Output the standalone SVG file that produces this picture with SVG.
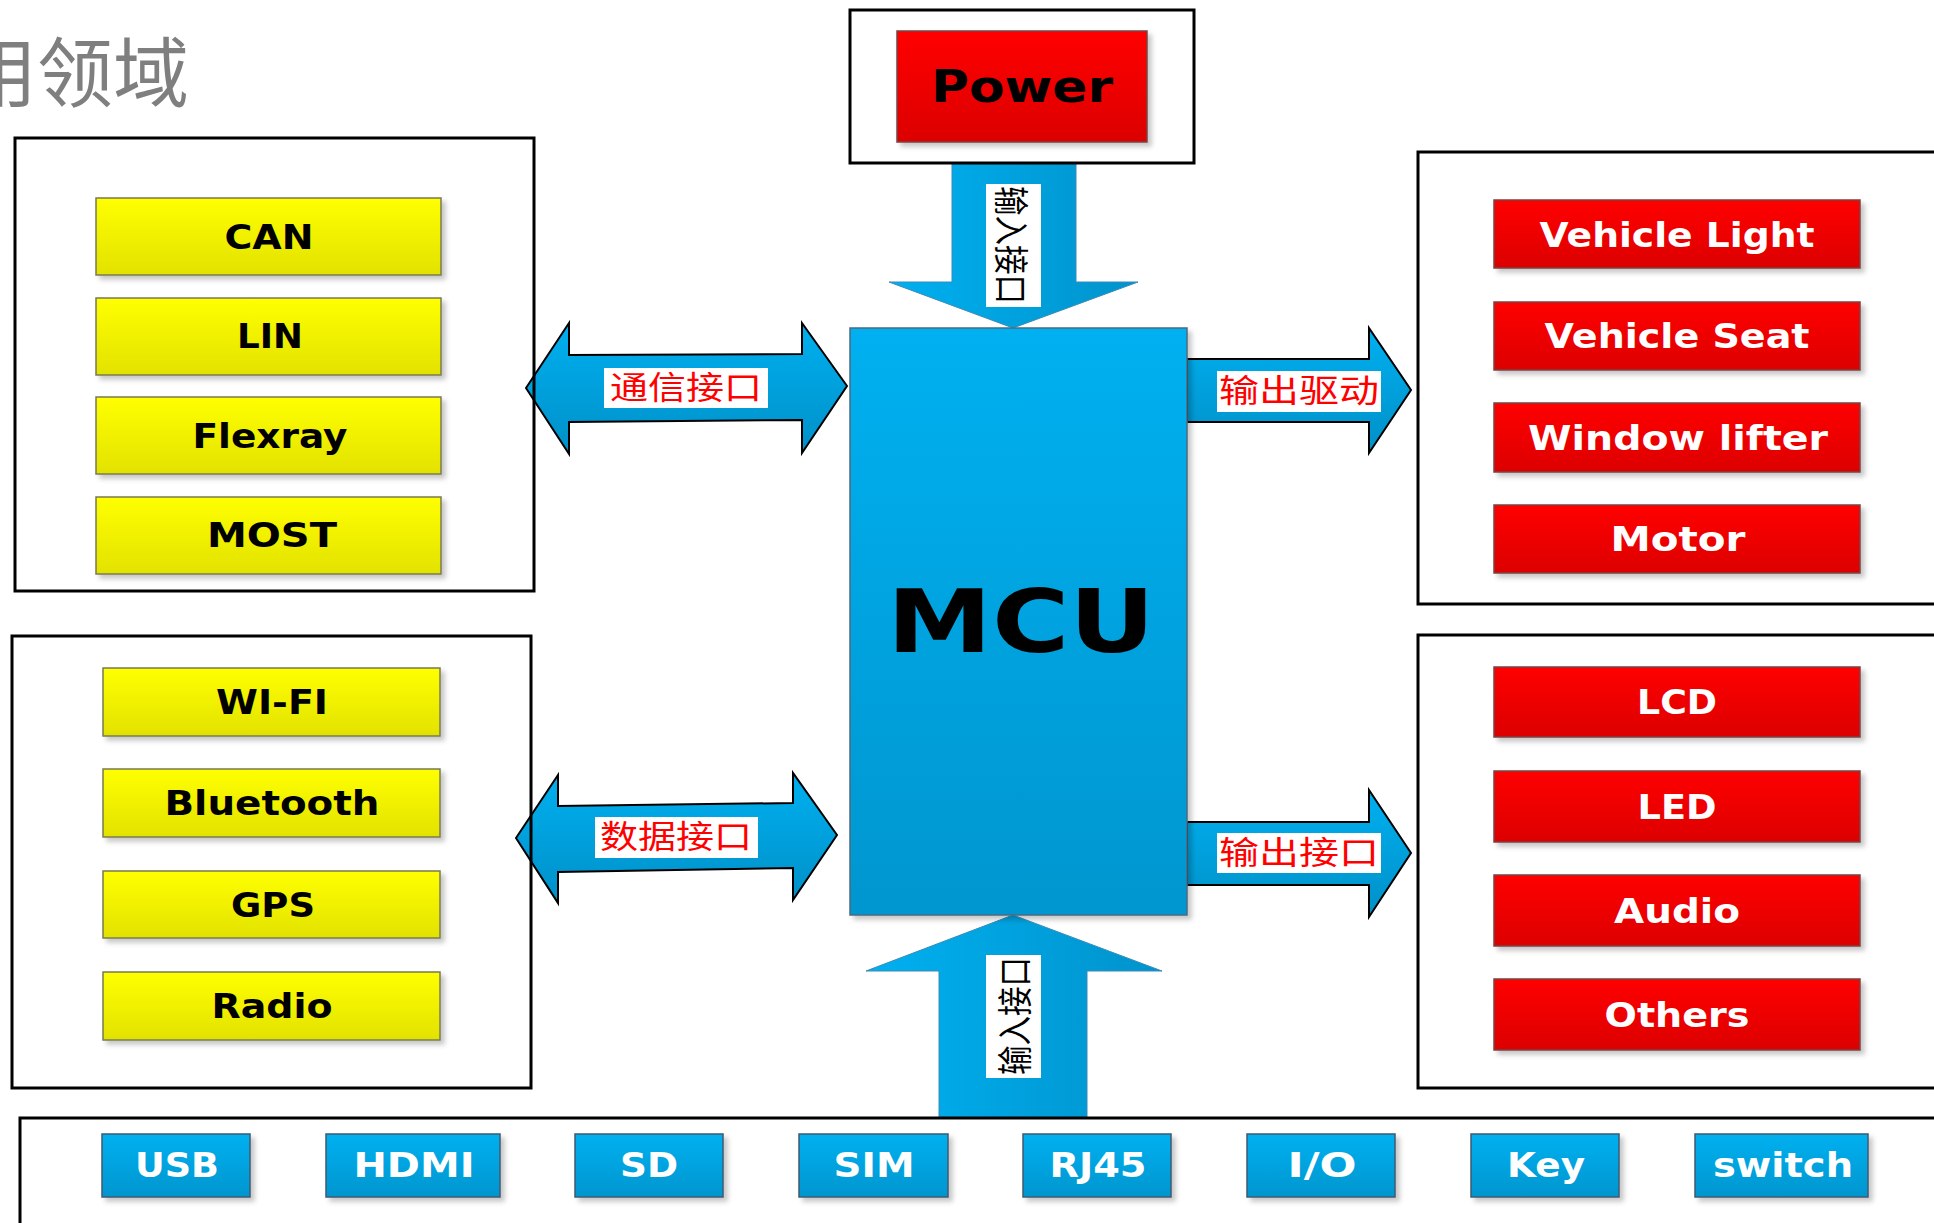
<svg xmlns="http://www.w3.org/2000/svg" width="1934" height="1223" viewBox="0 0 1934 1223">
  <style>
    .frame { fill: none; stroke: #000; stroke-width: 3; }
    .yel { fill: url(#gYel); stroke: #7a7a50; stroke-width: 1.5; filter: url(#sh); }
    .red { fill: url(#gRed); stroke: #7a4040; stroke-width: 1.5; filter: url(#sh); }
    .blu { fill: url(#gBlu); stroke: #3d5a70; stroke-width: 1.5; filter: url(#sh); }
    .lbl { font-family: "DejaVu Sans", "Liberation Sans", sans-serif; font-weight: bold; font-size: 34px; text-anchor: middle; }
    .big { font-size: 88px; }
    .pw { font-size: 44px; }
    .sm { font-size: 33px; }
    .dark { fill: #000; }
    .light { fill: #fff; }
    .harrow { fill: url(#gArrH); stroke: #000; stroke-width: 2; stroke-linejoin: miter; }
    .varrow { fill: url(#gArrV); stroke: #3a8ab8; stroke-width: 1; }
    .tagbox { fill: #fff; }
    .tag { font-family: "Noto Sans CJK SC", "Noto Sans", sans-serif; font-size: 32px; fill: #ff0000; text-anchor: middle; }
    .vtag { font-family: "Noto Sans CJK SC", "Noto Sans", sans-serif; font-size: 29px; fill: #000; text-anchor: middle; dominant-baseline: central; }
    .title { font-family: "Noto Sans CJK SC", sans-serif; font-size: 76px; fill: #7f7f7f; }
  </style>
  <defs>
    <linearGradient id="gYel" x1="0" y1="0" x2="0" y2="1">
      <stop offset="0" stop-color="#ffff00"/>
      <stop offset="1" stop-color="#e2e200"/>
    </linearGradient>
    <linearGradient id="gRed" x1="0" y1="0" x2="0" y2="1">
      <stop offset="0" stop-color="#ff0000"/>
      <stop offset="1" stop-color="#dc0000"/>
    </linearGradient>
    <linearGradient id="gBlu" x1="0" y1="0" x2="0" y2="1">
      <stop offset="0" stop-color="#00b0f0"/>
      <stop offset="1" stop-color="#0096cf"/>
    </linearGradient>
    <linearGradient id="gArrH" x1="0" y1="0" x2="0" y2="1">
      <stop offset="0" stop-color="#00b0f0"/>
      <stop offset="1" stop-color="#0090c8"/>
    </linearGradient>
    <linearGradient id="gArrV" x1="0" y1="0" x2="1" y2="0">
      <stop offset="0" stop-color="#00b0f0"/>
      <stop offset="1" stop-color="#0093cc"/>
    </linearGradient>
    <filter id="sh" x="-10%" y="-10%" width="130%" height="140%">
      <feDropShadow dx="4" dy="4" stdDeviation="2.5" flood-color="#000" flood-opacity="0.22"/>
    </filter>
  </defs>

  <rect x="0" y="0" width="1934" height="1223" fill="#fff"/>

  <text class="title" x="-39" y="101">用领域</text>

  <g id="connectors">
    <g id="arrow-comm">
      <polygon class="harrow" points="526,388 569,323 569,355 802,354 802,323 847,386 802,453 802,420 569,422 569,454"/>
      <rect class="tagbox" x="604" y="368" width="164" height="40"/>
      <text class="tag" x="686" y="399" textLength="152" lengthAdjust="spacingAndGlyphs">通信接口</text>
    </g>
    <g id="arrow-data">
      <polygon class="harrow" points="516,838 558,775 558,806 793,803 793,773 837,835 793,900 793,868 558,872 558,903"/>
      <rect class="tagbox" x="595" y="817" width="163" height="41"/>
      <text class="tag" x="676" y="848" textLength="152" lengthAdjust="spacingAndGlyphs">数据接口</text>
    </g>
    <g id="arrow-drive">
      <polygon class="harrow" points="1187,359 1369,359 1369,328 1411,390 1369,453 1369,422 1187,422"/>
      <rect class="tagbox" x="1217" y="371" width="164" height="41"/>
      <text class="tag" x="1299" y="402" textLength="160" lengthAdjust="spacingAndGlyphs">输出驱动</text>
    </g>
    <g id="arrow-out">
      <polygon class="harrow" points="1187,822 1369,822 1369,790 1411,853 1369,917 1369,885 1187,885"/>
      <rect class="tagbox" x="1217" y="833" width="164" height="40"/>
      <text class="tag" x="1299" y="864" textLength="160" lengthAdjust="spacingAndGlyphs">输出接口</text>
    </g>
    <g id="arrow-power">
      <polygon class="varrow" points="952,164 1076,164 1076,282 1138,282 1013,328 889,282 952,282"/>
      <rect class="tagbox" x="986" y="184" width="55" height="123"/>
      <text class="vtag" transform="translate(1013,245) rotate(90) scale(1,1.2)" x="0" y="0" textLength="118" lengthAdjust="spacingAndGlyphs">输入接口</text>
    </g>
    <g id="arrow-input">
      <polygon class="varrow" points="939,1118 939,971 866,971 1013,915 1162,971 1087,971 1087,1118"/>
      <rect class="tagbox" x="986" y="955" width="55" height="123"/>
      <text class="vtag" transform="translate(1013,1016) rotate(-90) scale(1,1.2)" x="0" y="0" textLength="118" lengthAdjust="spacingAndGlyphs">输入接口</text>
    </g>
  </g>

  <g id="power">
    <rect class="frame" x="850" y="10" width="344" height="153"/>
    <rect class="red" x="897" y="31" width="250" height="111"/>
    <text class="lbl pw dark" x="1022" y="102" textLength="182" lengthAdjust="spacingAndGlyphs">Power</text>
  </g>

  <g id="mcu">
    <rect x="850" y="328" width="337" height="587" fill="url(#gBlu)" stroke="#4a6a80" stroke-width="1.5" filter="url(#sh)"/>
    <text class="lbl big dark" x="1021" y="652" textLength="268" lengthAdjust="spacingAndGlyphs">MCU</text>
  </g>

  <g id="bus-group">
    <rect class="frame" x="15" y="138" width="519" height="453"/>
    <g id="can"><rect class="yel" x="96" y="198" width="345" height="77"/><text class="lbl dark" x="269" y="249" textLength="89" lengthAdjust="spacingAndGlyphs">CAN</text></g>
    <g id="lin"><rect class="yel" x="96" y="298" width="345" height="77"/><text class="lbl dark" x="270" y="348" textLength="66" lengthAdjust="spacingAndGlyphs">LIN</text></g>
    <g id="flexray"><rect class="yel" x="96" y="397" width="345" height="77"/><text class="lbl dark" x="270" y="448" textLength="155" lengthAdjust="spacingAndGlyphs">Flexray</text></g>
    <g id="most"><rect class="yel" x="96" y="497" width="345" height="77"/><text class="lbl dark" x="272" y="547" textLength="130" lengthAdjust="spacingAndGlyphs">MOST</text></g>
  </g>

  <g id="wireless-group">
    <rect class="frame" x="12" y="636" width="519" height="452"/>
    <g id="wifi"><rect class="yel" x="103" y="668" width="337" height="68"/><text class="lbl dark" x="272" y="714" textLength="112" lengthAdjust="spacingAndGlyphs">WI-FI</text></g>
    <g id="bluetooth"><rect class="yel" x="103" y="769" width="337" height="68"/><text class="lbl dark" x="272" y="815" textLength="215" lengthAdjust="spacingAndGlyphs">Bluetooth</text></g>
    <g id="gps"><rect class="yel" x="103" y="871" width="337" height="67"/><text class="lbl dark" x="273" y="917" textLength="84" lengthAdjust="spacingAndGlyphs">GPS</text></g>
    <g id="radio"><rect class="yel" x="103" y="972" width="337" height="68"/><text class="lbl dark" x="272" y="1018" textLength="121" lengthAdjust="spacingAndGlyphs">Radio</text></g>
  </g>

  <g id="actuator-group">
    <rect class="frame" x="1418" y="152" width="540" height="452"/>
    <g id="vehicle-light"><rect class="red" x="1494" y="200" width="366" height="68"/><text class="lbl light" x="1677" y="247" textLength="275" lengthAdjust="spacingAndGlyphs">Vehicle Light</text></g>
    <g id="vehicle-seat"><rect class="red" x="1494" y="302" width="366" height="68"/><text class="lbl light" x="1677" y="348" textLength="265" lengthAdjust="spacingAndGlyphs">Vehicle Seat</text></g>
    <g id="window-lifter"><rect class="red" x="1494" y="403" width="366" height="69"/><text class="lbl light" x="1678" y="450" textLength="300" lengthAdjust="spacingAndGlyphs">Window lifter</text></g>
    <g id="motor"><rect class="red" x="1494" y="505" width="366" height="68"/><text class="lbl light" x="1678" y="551" textLength="135" lengthAdjust="spacingAndGlyphs">Motor</text></g>
  </g>

  <g id="display-group">
    <rect class="frame" x="1418" y="635" width="540" height="453"/>
    <g id="lcd"><rect class="red" x="1494" y="667" width="366" height="70"/><text class="lbl light" x="1677" y="714" textLength="80" lengthAdjust="spacingAndGlyphs">LCD</text></g>
    <g id="led"><rect class="red" x="1494" y="771" width="366" height="71"/><text class="lbl light" x="1677" y="819" textLength="79" lengthAdjust="spacingAndGlyphs">LED</text></g>
    <g id="audio"><rect class="red" x="1494" y="875" width="366" height="71"/><text class="lbl light" x="1677" y="923" textLength="126" lengthAdjust="spacingAndGlyphs">Audio</text></g>
    <g id="others"><rect class="red" x="1494" y="979" width="366" height="71"/><text class="lbl light" x="1677" y="1027" textLength="145" lengthAdjust="spacingAndGlyphs">Others</text></g>
  </g>

  <g id="io-group">
    <rect class="frame" x="20" y="1118" width="1960" height="140"/>
    <g id="usb"><rect class="blu" x="102" y="1134" width="148" height="63"/><text class="lbl sm light" x="177" y="1177" textLength="84" lengthAdjust="spacingAndGlyphs">USB</text></g>
    <g id="hdmi"><rect class="blu" x="326" y="1134" width="174" height="63"/><text class="lbl sm light" x="414" y="1177" textLength="121" lengthAdjust="spacingAndGlyphs">HDMI</text></g>
    <g id="sd"><rect class="blu" x="575" y="1134" width="148" height="63"/><text class="lbl sm light" x="649" y="1177" textLength="58" lengthAdjust="spacingAndGlyphs">SD</text></g>
    <g id="sim"><rect class="blu" x="799" y="1134" width="149" height="63"/><text class="lbl sm light" x="874" y="1177" textLength="81" lengthAdjust="spacingAndGlyphs">SIM</text></g>
    <g id="rj45"><rect class="blu" x="1023" y="1134" width="148" height="63"/><text class="lbl sm light" x="1098" y="1177" textLength="97" lengthAdjust="spacingAndGlyphs">RJ45</text></g>
    <g id="io"><rect class="blu" x="1247" y="1134" width="148" height="63"/><text class="lbl sm light" x="1322" y="1177" textLength="69" lengthAdjust="spacingAndGlyphs">I/O</text></g>
    <g id="key"><rect class="blu" x="1471" y="1134" width="148" height="63"/><text class="lbl sm light" x="1546" y="1177" textLength="78" lengthAdjust="spacingAndGlyphs">Key</text></g>
    <g id="switch"><rect class="blu" x="1695" y="1134" width="173" height="63"/><text class="lbl sm light" x="1783" y="1177" textLength="140" lengthAdjust="spacingAndGlyphs">switch</text></g>
  </g>
</svg>
